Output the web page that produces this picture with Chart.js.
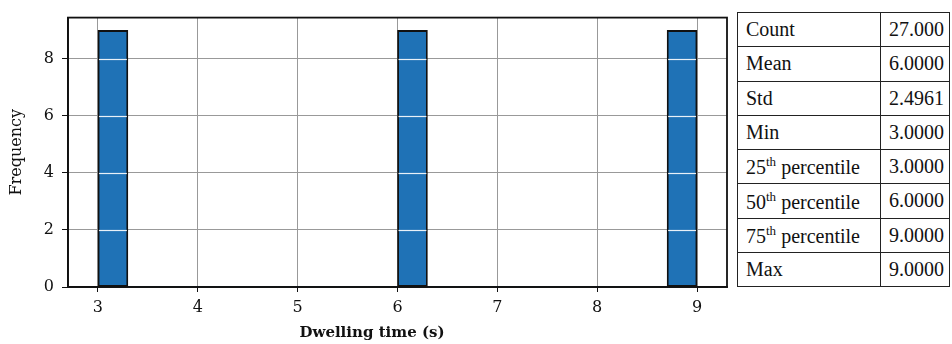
<!DOCTYPE html>
<html>
<head>
<meta charset="utf-8">
<script src="https://cdn.jsdelivr.net/npm/chart.js@4.4.1/dist/chart.umd.min.js"></script>
<style>
    html, body { margin: 0; padding: 0; background: #fff; }
    #wrap { position: relative; width: 952px; height: 344px; }
    #chartBox { position: absolute; left: 0; top: 0; width: 735px; height: 344px; }
    #stats {
        position: absolute; left: 737px; top: 12px; width: 213px; height: 275px;
        border-collapse: collapse; font-family: 'Liberation Serif', 'Times New Roman', serif;
        font-size: 20px; color: #111;
    }
    #stats td { border: 1.4px solid #222; padding: 0 0 0 8px; height: 33px; }
    #stats td:first-child { width: 134px; }
    #stats sup { font-size: 13px; }
</style>
</head>
<body>
<div id="wrap">
    <div id="chartBox"><canvas id="hist" width="735" height="344"></canvas></div>
    <table id="stats"></table>
</div>
<script>
// histogram bins (left edges) and counts
const binStarts = [3.0, 3.3, 3.6, 3.9, 4.2, 4.5, 4.8, 5.1, 5.4, 5.7, 6.0, 6.3, 6.6, 6.9, 7.2, 7.5, 7.8, 8.1, 8.4, 8.7];
const binCounts = [9, 0, 0, 0, 0, 0, 0, 0, 0, 0, 9, 0, 0, 0, 0, 0, 0, 0, 0, 9];
const binWidth = 0.3;

const xTicks = [3, 4, 5, 6, 7, 8, 9];
const yTicks = [0, 2, 4, 6, 8];

// summary table
const statLabels = ['Count', 'Mean', 'Std', 'Min', '25<sup>th</sup> percentile', '50<sup>th</sup> percentile', '75<sup>th</sup> percentile', 'Max'];
const statValues = ['27.000', '6.0000', '2.4961', '3.0000', '3.0000', '6.0000', '9.0000', '9.0000'];

let rows = '';
for (let i = 0; i < statLabels.length; i++) {
    rows += '<tr><td>' + statLabels[i] + '</td><td>' + statValues[i] + '</td></tr>';
}
document.getElementById('stats').innerHTML = rows;

const points = binStarts.map((s, i) => ({ x: s + binWidth / 2, y: binCounts[i] }));

const serif = "'DejaVu Serif', serif";

// frame + white grid across bars + x title
const extras = {
    id: 'extras',
    afterDatasetsDraw(chart) {
        const ctx = chart.ctx;
        const y = chart.scales.y;
        const meta = chart.getDatasetMeta(0);
        ctx.save();
        ctx.strokeStyle = 'rgba(255,255,255,0.9)';
        ctx.lineWidth = 1.2;
        meta.data.forEach((bar, i) => {
            const v = binCounts[i];
            if (!v) return;
            const p = bar.getProps(['x', 'width'], true);
            yTicks.forEach(t => {
                if (t <= 0 || t >= v) return;
                const py = Math.round(y.getPixelForValue(t)) + 0.5;
                ctx.beginPath();
                ctx.moveTo(p.x - p.width / 2 + 1, py);
                ctx.lineTo(p.x + p.width / 2 - 1, py);
                ctx.stroke();
            });
        });
        ctx.restore();
    },
    afterDraw(chart) {
        const ctx = chart.ctx;
        const a = chart.chartArea;
        ctx.save();
        ctx.strokeStyle = '#111';
        ctx.lineWidth = 1.8;
        ctx.strokeRect(a.left, a.top, a.right - a.left, a.bottom - a.top);
        ctx.fillStyle = '#111';
        ctx.font = "bold 15px " + serif;
        ctx.textAlign = 'center';
        ctx.textBaseline = 'middle';
        ctx.fillText('Dwelling time (s)', 372, 333);
        ctx.restore();
    }
};

new Chart(document.getElementById('hist'), {
    type: 'bar',
    data: {
        datasets: [{
            data: points,
            backgroundColor: '#1f72b6',
            borderColor: '#111',
            borderWidth: c => (c.raw && c.raw.y > 0 ? 1.8 : 0),
            borderSkipped: false,
            barPercentage: 1,
            categoryPercentage: 1
        }]
    },
    options: {
        responsive: false,
        animation: false,
        events: [],
        layout: { padding: { top: 12, right: 8 } },
        plugins: { legend: { display: false }, tooltip: { enabled: false } },
        scales: {
            x: {
                type: 'linear',
                min: 2.7,
                max: 9.3,
                offset: false,
                afterBuildTicks: s => { s.ticks = xTicks.map(v => ({ value: v })); },
                afterFit: s => { s.height = 57; },
                grid: { offset: false, color: '#999', lineWidth: 1, tickLength: 5, tickColor: '#111' },
                border: { color: '#111', width: 1.8 },
                ticks: { color: '#111', font: { family: serif, size: 16 }, padding: 6, maxRotation: 0 }
            },
            y: {
                min: 0,
                max: 9.45,
                afterBuildTicks: s => { s.ticks = yTicks.map(v => ({ value: v })); },
                afterFit: s => { s.width = 68; },
                grid: { color: '#999', lineWidth: 1, tickLength: 6, tickColor: '#111' },
                border: { color: '#111', width: 1.8 },
                ticks: { color: '#111', font: { family: serif, size: 16 }, padding: 8 },
                title: { display: true, text: 'Frequency', color: '#111', font: { family: serif, size: 16 }, padding: { top: 7 } }
            }
        }
    },
    plugins: [extras]
});
</script>
</body>
</html>
